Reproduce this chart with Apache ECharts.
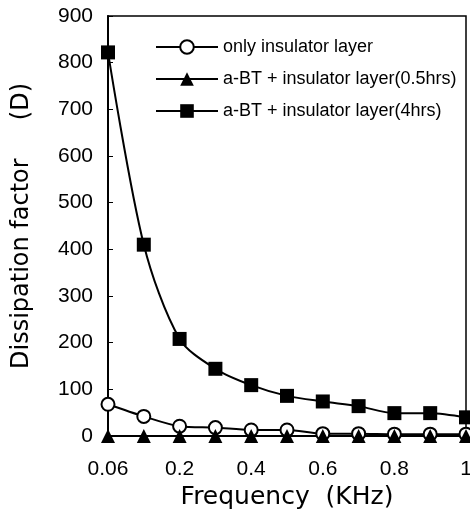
<!DOCTYPE html>
<html>
<head>
<meta charset="utf-8">
<script src="https://cdn.jsdelivr.net/npm/echarts@6/dist/echarts.min.js"></script>
<style>
  html, body { margin: 0; padding: 0; background: #fff; }
  #chart { width: 470px; height: 509px; }
</style>
</head>
<body>
<div id="chart"></div>
<script>
// frequency (KHz), equally spaced on the axis
const frequencies = ['0.06', '0.1', '0.2', '0.3', '0.4', '0.5', '0.6', '0.7', '0.8', '0.9', '1'];

// dissipation factor (D)
const onlyInsulator = [68, 42, 21, 18, 13, 13, 5, 5, 4, 4, 4];
const bt05hrs = [0, 0, 0, 0, 0, 0, 0, 0, 0, 0, 0];
const bt4hrs = [822, 410, 208, 144, 109, 86, 74, 64, 49, 49, 40];

const seriesNames = [
    'only insulator layer',
    'a-BT + insulator layer(0.5hrs)',
    'a-BT + insulator layer(4hrs)'
];

const chart = echarts.init(document.getElementById('chart'), null, { renderer: 'canvas' });

const lineStyle = { color: '#000', width: 2 };

chart.setOption({
    animation: false,
    backgroundColor: '#fff',
    grid: {
        left: 108, right: 4, top: 16, bottom: 73,
        outerBoundsMode: 'none',
        show: true, borderColor: '#000', borderWidth: 1.5
    },
    legend: {
        orient: 'vertical',
        left: 150,
        top: 33,
        itemWidth: 62,
        itemHeight: 17,
        itemGap: 14,
        textStyle: { fontFamily: 'Liberation Sans, Arial', fontSize: 18, color: '#000' },
        data: seriesNames
    },
    xAxis: {
        type: 'category',
        data: frequencies,
        boundaryGap: false,
        name: 'Frequency  (KHz)',
        nameLocation: 'middle',
        nameGap: 44,
        nameTextStyle: { fontFamily: 'DejaVu Sans', fontSize: 25, color: '#000' },
        axisLine: { lineStyle: { color: '#000', width: 2 } },
        axisTick: { show: false },
        axisLabel: {
            interval: 1,
            margin: 23,
            fontFamily: 'Liberation Sans, Arial',
            fontSize: 21,
            color: '#000'
        },
        splitLine: { show: false }
    },
    yAxis: {
        type: 'value',
        min: 0,
        max: 900,
        interval: 100,
        name: 'Dissipation factor     (D)',
        nameLocation: 'middle',
        nameGap: 74,
        nameTextStyle: { fontFamily: 'DejaVu Sans', fontSize: 24, color: '#000' },
        axisLine: { show: true, lineStyle: { color: '#000', width: 2 } },
        axisTick: { show: true, inside: true, length: 5, lineStyle: { color: '#000', width: 1 } },
        axisLabel: {
            margin: 15,
            fontFamily: 'Liberation Sans, Arial',
            fontSize: 21,
            color: '#000'
        },
        splitLine: { show: false }
    },
    series: [
        {
            name: seriesNames[0],
            type: 'line',
            data: onlyInsulator,
            smooth: 0.3,
            symbol: 'circle',
            symbolSize: 13,
            itemStyle: { color: '#fff', borderColor: '#000', borderWidth: 2 },
            lineStyle: lineStyle
        },
        {
            name: seriesNames[1],
            type: 'line',
            data: bt05hrs,
            symbol: 'triangle',
            symbolSize: 14,
            itemStyle: { color: '#000' },
            lineStyle: lineStyle
        },
        {
            name: seriesNames[2],
            type: 'line',
            data: bt4hrs,
            smooth: 0.3,
            symbol: 'rect',
            symbolSize: 14,
            itemStyle: { color: '#000' },
            lineStyle: lineStyle
        }
    ]
});
</script>
</body>
</html>
